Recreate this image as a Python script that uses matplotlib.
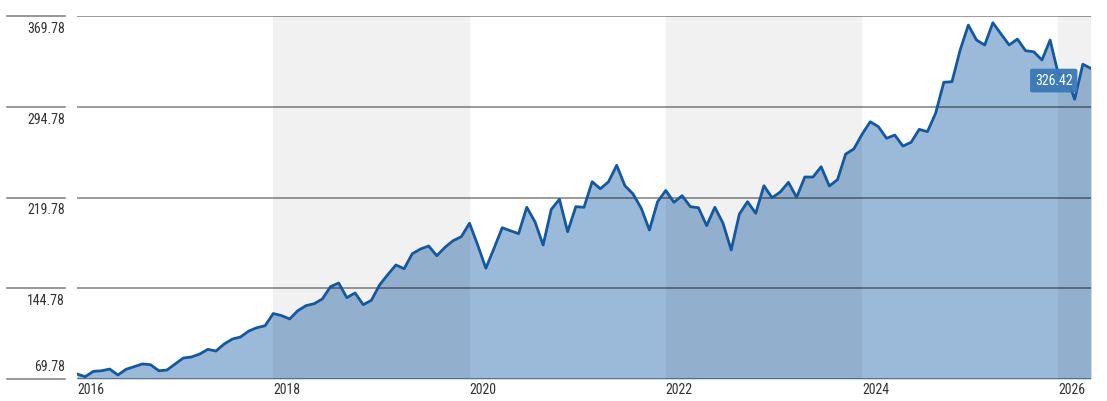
import matplotlib
matplotlib.use('Agg')
import matplotlib.pyplot as plt
import matplotlib.transforms as mtransforms
from matplotlib import font_manager as fm
import numpy as np

# Monthly values, Jan 2016 .. May 2026
values = [
    73.9, 71.7, 76.1, 76.6, 78.0, 73.1, 77.8, 80.0, 82.2, 81.6, 76.6, 77.2,
    82.2, 87.1, 88.0, 90.4, 94.3, 92.9, 98.7, 102.8, 104.5, 109.4, 112.2, 113.8,
    123.9, 122.2, 119.4, 126.2, 130.4, 132.0, 135.9, 146.1, 149.1, 137.0, 140.9, 131.2,
    134.8, 147.5, 156.0, 164.0, 160.9, 173.3, 177.2, 179.7, 171.7, 178.6, 184.1, 187.4,
    198.5, 180.5, 161.3, 177.8, 194.8, 192.3, 189.9, 211.7, 199.8, 180.5, 210.0, 218.3,
    191.5, 212.2, 211.7, 232.8, 227.0, 232.8, 246.4, 229.5, 222.7, 210.9, 192.9, 216.3,
    225.6, 215.8, 221.3, 212.2, 211.3, 196.5, 211.7, 198.5, 176.4, 206.1, 216.3, 206.7,
    229.5, 219.6, 224.3, 232.3, 219.9, 236.7, 236.7, 245.2, 229.3, 234.5, 255.7, 259.9,
    272.0, 282.4, 278.3, 268.7, 271.4, 262.3, 265.4, 276.1, 274.2, 289.4, 315.0, 315.5,
    341.7, 362.3, 349.9, 345.8, 364.2, 354.9, 345.8, 350.7, 341.1, 340.2, 333.4, 349.9,
    321.8, 320.4, 300.9, 329.9, 326.42,
]
start_year = 2016
y_ticks = [69.78, 144.78, 219.78, 294.78, 369.78]
x_ticks = [2016, 2018, 2020, 2022, 2024, 2026]
shaded = [(2018, 2020), (2022, 2024), (2026, 2028)]
last_label = '326.42'


def narrow_font():
    # look for a condensed sans face; fall back to plain Liberation Sans
    names = ['Liberation Sans Narrow', 'DejaVu Sans Condensed', 'Roboto Condensed',
             'Open Sans Condensed', 'Noto Sans Condensed']
    for n in names:
        for f in fm.fontManager.ttflist:
            if f.name == n and f.weight in (400, 'normal', 'regular') and f.style == 'normal':
                return f.fname, True
    for f in fm.fontManager.ttflist:
        if f.name in ('Noto Sans', 'Roboto', 'Open Sans', 'DejaVu Sans') and \
                str(f.stretch) in ('condensed', 'semi-condensed', '500', '600') and \
                f.style == 'normal' and f.weight in (400, 'normal', 'regular'):
            return f.fname, True
    return fm.findfont('Liberation Sans'), False


fpath, is_narrow = narrow_font()
fsize = 10 if is_narrow else 9
font = fm.FontProperties(fname=fpath, size=fsize)

x = start_year + np.arange(len(values)) / 12.0

fig = plt.figure(figsize=(11.07, 4.01), dpi=100)
ax = fig.add_axes([77 / 1107, 22 / 401, 1014 / 1107, 363 / 401])

ax.fill_between(x, y_ticks[0], values, color='#9bbad9', lw=0, zorder=1)
for a, b in shaded:
    ax.axvspan(a, b, color='black', alpha=0.055, lw=0, zorder=2)
for v in y_ticks:
    ax.axhline(v, color='black', alpha=0.5, lw=1.1, zorder=3)
ax.plot(x, values, color='#1558a0', lw=2, zorder=4)

ax.set_xlim(x[0], x[-1])
ax.set_ylim(y_ticks[0], y_ticks[-1])
for s in ax.spines.values():
    s.set_visible(False)
ax.set_xticks([])
ax.set_yticks([])

# y labels with small rule segments in the label column
blend = mtransforms.blended_transform_factory(ax.transAxes, ax.transData)
for i, v in enumerate(y_ticks):
    ax.plot([-70 / 1014, -12 / 1014], [v, v], transform=blend, color='#7a7a7a',
            lw=1.1, clip_on=False)
    if i == 0:
        tr = mtransforms.offset_copy(blend, fig=fig, x=0, y=5, units='dots')
        va = 'bottom'
    else:
        tr = mtransforms.offset_copy(blend, fig=fig, x=0, y=-6, units='dots')
        va = 'top'
    ax.text(-12 / 1014, v, f'{v:.2f}', transform=tr, ha='right', va=va,
            fontproperties=font, color='#333333')

# x labels, left aligned at the year start
xblend = mtransforms.blended_transform_factory(ax.transData, ax.transAxes)
xtr = mtransforms.offset_copy(xblend, fig=fig, x=0, y=-4, units='dots')
for yr in x_ticks:
    ax.text(yr, 0, str(yr), transform=xtr, ha='left', va='top',
            fontproperties=font, color='#333333')

# last value tag
ax.text(x[-1] - 0.38, values[-1] - 10, last_label, ha='center', va='center',
        fontproperties=font, color='white', zorder=6,
        bbox=dict(boxstyle='round,pad=0.35,rounding_size=0.15',
                  fc='#3a78b6', ec='none', alpha=0.95))

fig.savefig('out.png', dpi=100)
